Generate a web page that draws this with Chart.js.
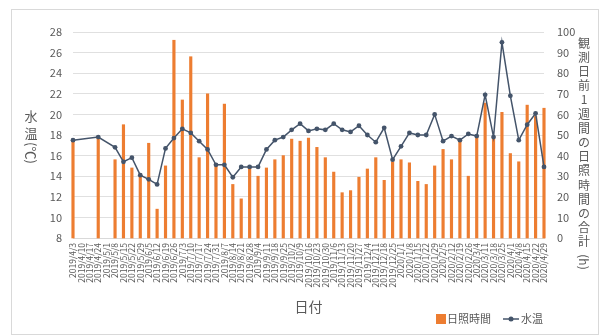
<!DOCTYPE html>
<html>
<head>
<meta charset="utf-8">
<script src="https://cdn.jsdelivr.net/npm/chart.js@4.4.1/dist/chart.umd.min.js"></script>
<style>
  html, body { margin: 0; padding: 0; background: #ffffff; }
  #wrap { width: 601px; height: 336px; }
</style>
</head>
<body>
<div id="wrap"><canvas id="c" width="601" height="336"></canvas></div>
<script>
// Observation dates (weekly axis slots)
const dates = [
  '2019/4/3','2019/4/10','2019/4/17','2019/4/24','2019/5/1','2019/5/8','2019/5/15','2019/5/22','2019/5/29',
  '2019/6/5','2019/6/12','2019/6/19','2019/6/26','2019/7/3','2019/7/10','2019/7/17','2019/7/24','2019/7/31',
  '2019/8/7','2019/8/14','2019/8/21','2019/8/28','2019/9/4','2019/9/11','2019/9/18','2019/9/25',
  '2019/10/2','2019/10/9','2019/10/16','2019/10/23','2019/10/30','2019/11/6','2019/11/13','2019/11/20','2019/11/27',
  '2019/12/4','2019/12/11','2019/12/18','2019/12/25','2020/1/1','2020/1/8','2020/1/15','2020/1/22','2020/1/29',
  '2020/2/5','2020/2/12','2020/2/19','2020/2/26','2020/3/4','2020/3/11','2020/3/18','2020/3/25',
  '2020/4/1','2020/4/8','2020/4/15','2020/4/22','2020/4/29'
];

// Water temperature (°C); null = no observation that week
const waterTemp = [
  17.5, null, null, 17.8, null, 16.8, 15.4, 15.8, 14.1, 13.7,
  13.2, 16.7, 17.7, 18.6, 18.2, 17.4, 16.6, 15.1, 15.1, 13.9,
  14.9, 14.9, 14.9, 16.6, 17.5, 17.8, 18.5, 19.1, 18.4, 18.6,
  18.5, 19.1, 18.5, 18.3, 18.9, 18.0, 17.3, 18.7, 15.6, 16.9,
  18.2, 18.0, 18.0, 20.0, 17.4, 17.9, 17.5, 18.1, 17.9, 21.9,
  17.8, 27.0, 21.8, 17.5, 19.0, 20.1, 14.9
];

// Total sunshine hours over the week before each observation (h)
const sunHours = [
  48, null, null, 49, null, 38, 55, 34, 31, 46,
  14, 35, 96, 67, 88, 39, 70, 36, 65, 26,
  19, 34, 30, 34, 38, 40, 48, 47, 48.5, 44,
  39, 32, 22, 23, 29.5, 33.5, 39, 28, 37, 38,
  36.5, 27.5, 26, 35, 43, 38, 47, 30, 49, 65.5,
  49, 61, 41, 37, 64.5, 59, 63
];

const tempTicks = { min: 8, max: 28, step: 2 };
const hourTicks = { min: 0, max: 100, step: 10 };

const FONT = "'Noto Sans CJK JP', 'Noto Sans', sans-serif";
const TEXT = '#595959';
const ORANGE = '#ED7D31';
const NAVY = '#44546A';

// Titles, legend and outer frame
const decor = {
  id: 'decor',
  afterDraw(chart) {
    const ctx = chart.ctx;
    ctx.save();
    // frame
    ctx.strokeStyle = '#d9d9d9';
    ctx.lineWidth = 1;
    ctx.strokeRect(11.5, 9.5, 587, 325);

    ctx.fillStyle = TEXT;
    ctx.textAlign = 'center';
    ctx.textBaseline = 'middle';

    // left axis title, stacked
    ctx.font = '13px ' + FONT;
    ctx.fillText('水', 31, 116);
    ctx.fillText('温', 31, 133);
    ctx.save();
    ctx.translate(31, 153);
    ctx.rotate(Math.PI / 2);
    ctx.fillText('(℃)', 0, 0);
    ctx.restore();

    // right axis title, stacked
    ctx.font = '12px ' + FONT;
    const chars = ['観','測','日','前','1','週','間','の','日','照','時','間','の','合','計'];
    chars.forEach((ch, i) => ctx.fillText(ch, 584, 43 + i * 14.2));
    ctx.save();
    ctx.translate(584, 262);
    ctx.rotate(Math.PI / 2);
    ctx.fillText('(h)', 0, 0);
    ctx.restore();

    // legend
    ctx.font = '11px ' + FONT;
    ctx.textAlign = 'left';
    ctx.fillStyle = ORANGE;
    ctx.fillRect(436, 314, 10, 10);
    ctx.fillStyle = TEXT;
    ctx.fillText('日照時間', 447, 319);
    ctx.strokeStyle = NAVY;
    ctx.lineWidth = 1.5;
    ctx.beginPath();
    ctx.moveTo(503, 319);
    ctx.lineTo(519, 319);
    ctx.stroke();
    ctx.fillStyle = NAVY;
    ctx.beginPath();
    ctx.arc(511, 319, 2.5, 0, Math.PI * 2);
    ctx.fill();
    ctx.fillStyle = TEXT;
    ctx.fillText('水温', 521, 319);
    ctx.restore();
  }
};

new Chart(document.getElementById('c'), {
  data: {
    labels: dates,
    datasets: [
      {
        type: 'line',
        label: '水温',
        data: waterTemp,
        yAxisID: 'y',
        borderColor: NAVY,
        backgroundColor: NAVY,
        borderWidth: 1.5,
        pointRadius: 2.4,
        pointBackgroundColor: NAVY,
        pointBorderWidth: 0,
        spanGaps: true,
        tension: 0,
        order: 0,
        clip: false
      },
      {
        type: 'bar',
        label: '日照時間',
        data: sunHours,
        yAxisID: 'y1',
        backgroundColor: ORANGE,
        barThickness: 2.5,
        order: 1,
        clip: false
      }
    ]
  },
  options: {
    responsive: false,
    animation: false,
    devicePixelRatio: 1,
    layout: { padding: { left: 0, right: 0, top: 32, bottom: 0 } },
    plugins: { legend: { display: false }, tooltip: { enabled: false } },
    scales: {
      x: {
        type: 'category',
        offset: false,
        grid: { display: false, drawTicks: false },
        border: { display: true, color: '#d9d9d9' },
        ticks: {
          autoSkip: false, minRotation: 90, maxRotation: 90,
          padding: 5, color: TEXT, font: { family: FONT, size: 8.5 }
        },
        title: {
          display: true, text: '日付', color: TEXT,
          font: { family: FONT, size: 14 }, padding: { top: 0, bottom: 21 }
        },
        afterFit(s) { s.height = 98; }
      },
      y: {
        position: 'left',
        min: tempTicks.min, max: tempTicks.max,
        ticks: { stepSize: tempTicks.step, padding: 11, color: TEXT, font: { family: FONT, size: 11 } },
        grid: { color: '#e0e0e0', drawTicks: false },
        border: { display: false },
        afterFit(s) { s.width = 73; }
      },
      y1: {
        position: 'right',
        min: hourTicks.min, max: hourTicks.max,
        ticks: { stepSize: hourTicks.step, padding: 13, color: TEXT, font: { family: FONT, size: 11 } },
        grid: { display: false, drawTicks: false },
        border: { display: false },
        afterFit(s) { s.width = 57; }
      }
    }
  },
  plugins: [decor]
});
</script>
</body>
</html>
